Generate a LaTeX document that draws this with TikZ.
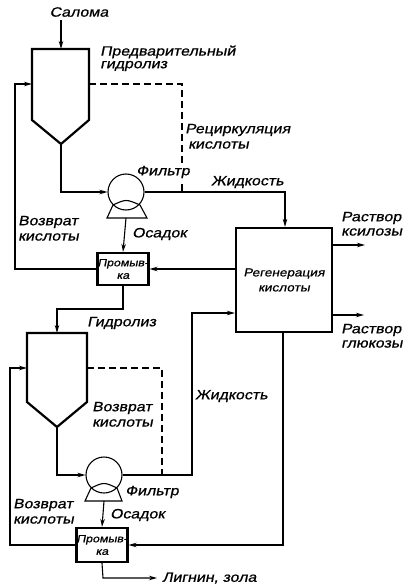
\documentclass[tikz,border=0pt]{standalone}
\usepackage{fontspec}
\newfontfamily\df{Liberation Sans}[FakeSlant=0.2,FakeStretch=1.18,FakeBold=0.8]
\usetikzlibrary{arrows.meta}
\begin{document}
\begin{tikzpicture}[x=1pt,y=-1pt,
  thin line/.style={line width=1.1pt},
  thick line/.style={line width=2.2pt},
  flow/.style={thin line,-{Stealth[length=8pt,width=4.5pt,inset=2.5pt]}},
  dline/.style={line width=1.2pt,dash pattern=on 7pt off 4pt},
  lbl/.style={font=\df\fontsize{13.5}{13.5}\selectfont,inner sep=0pt,anchor=west},
  washbox/.style={draw,thick line,minimum width=49pt,minimum height=32pt,inner sep=0pt,align=center,font=\df\fontsize{10.5}{12.5}\selectfont},
  filt/.style={draw,thin line,circle,minimum size=36pt,inner sep=0pt}]
\useasboundingbox (0,0) rectangle (405,586);

% ---------- top stage ----------
\node[lbl,anchor=center] (salo) at (79,12) {Салома};
\coordinate (inA) at (61,20);
\coordinate (h1tl) at (32,49);
\coordinate (h1tr) at (89,49);
\coordinate (h1r) at (89,120);
\coordinate (h1a) at (61,144);
\coordinate (h1l) at (32,120);
\draw[thick line,line join=miter] (h1tl) -- (h1tr) -- (h1r) -- (h1a) -- (h1l) -- cycle;
\draw[flow] (inA) -- (h1tl -| h1a);
\node[lbl] (t1) at (100,52) {Предварительный};
\node[lbl] (t2) at (100,66) {гидролиз};

\node[filt] (f1) at (126,192) {};
\draw[thin line] (113,205) .. controls (126,199) .. (140,205) -- (147,218) -- (107,218) -- cycle;
\coordinate (f1b) at (126,218);
\node[lbl] (tf1) at (136,172) {Фильтр};

\coordinate (d1a) at (182,84);
\coordinate (d1c) at (182,163);
\coordinate (d1d) at (182,184);
\coordinate (d1b) at (182,192);
\draw[dline] (89,84) -- (d1a) -- (d1c);
\draw[thin line] (d1d) -- (d1b);
\node[lbl] (tr1) at (185,130) {Рециркуляция};
\node[lbl] (tr2) at (188,145) {кислоты};

\coordinate (a1) at (61,192);
\draw[flow] (h1a) -- (a1) -- (f1.west);

\node[draw,thick line,minimum width=96pt,minimum height=104pt,inner sep=0pt,
      align=center,font=\df\fontsize{11.5}{15}\selectfont] (reg) at (284,280)
      {Регенерация\\кислоты};

\coordinate (l1) at (285,192);
\draw[flow] (f1.east) -- (l1) -- (l1 |- reg.north);
\node[lbl] (tl1) at (211,182) {Жидкость};

\coordinate (o1) at (365,245);
\draw[flow] (reg.east |- o1) -- (o1);
\node[lbl] (tx1) at (341,218) {Раствор};
\node[lbl] (tx2) at (341,232) {ксилозы};

\node[washbox] (w1) at (123,269) {Промыв-\\ка};
\draw[flow] (f1b) -- (w1.north);
\node[lbl] (to1) at (132,234) {Осадок};
\draw[flow] (reg.west |- w1) -- (w1.east);

\coordinate (r1a) at (15,269);
\coordinate (r1b) at (15,84);
\draw[flow] (w1.west) -- (r1a) -- (r1b) -- (h1tl |- r1b);
\node[lbl] (tv1) at (18,222) {Возврат};
\node[lbl] (tv2) at (18,237) {кислоты};

% ---------- bottom stage ----------
\coordinate (h2tl) at (27,333);
\coordinate (h2tr) at (87,333);
\coordinate (h2r) at (87,402);
\coordinate (h2a) at (57,427);
\coordinate (h2l) at (27,402);
\draw[thick line,line join=miter] (h2tl) -- (h2tr) -- (h2r) -- (h2a) -- (h2l) -- cycle;
\coordinate (b1) at (123,309);
\coordinate (b2) at (57,309);
\draw[flow] (w1.south) -- (b1) -- (b2) -- (h2tl -| h2a);
\node[lbl] (tg) at (87,323) {Гидролиз};

\node[filt] (f2) at (104,475) {};
\draw[thin line] (91,488) .. controls (104,482) .. (117,488) -- (122,501) -- (85,501) -- cycle;
\coordinate (f2b) at (104,501);
\node[lbl] (tf2) at (125,492) {Фильтр};

\coordinate (d2a) at (162,368);
\coordinate (d2b) at (162,475);
\draw[dline] (h2r |- d2a) -- (d2a) -- (d2b);
\node[lbl] (tm1) at (92,408) {Возврат};
\node[lbl] (tm2) at (92,423) {кислоты};

\coordinate (a2) at (57,475);
\draw[flow] (h2a) -- (a2) -- (f2.west);

\coordinate (l2a) at (192,475);
\coordinate (l2b) at (192,313);
\draw[flow] (f2.east) -- (l2a) -- (l2b) -- (reg.west |- l2b);
\node[lbl] (tl2) at (195,396) {Жидкость};

\coordinate (o2) at (364,315);
\draw[flow] (reg.east |- o2) -- (o2);
\node[lbl] (tx3) at (341,330) {Раствор};
\node[lbl] (tx4) at (341,344) {глюкозы};

\node[washbox,minimum width=50pt,minimum height=34pt] (w2) at (102,545) {Промыв-\\ка};
\draw[flow] (f2b) -- (w2.north);
\node[lbl] (to2) at (110,515) {Осадок};

\coordinate (g1) at (283,332);
\coordinate (g2) at (283,545);
\draw[flow] (g1) -- (g2) -- (w2.east);

\coordinate (r2a) at (10,545);
\coordinate (r2b) at (10,368);
\draw[flow] (w2.west) -- (r2a) -- (r2b) -- (h2tl |- r2b);
\node[lbl] (tv3) at (13,505) {Возврат};
\node[lbl] (tv4) at (13,520) {кислоты};

\coordinate (e1) at (103,578);
\coordinate (e2) at (157,578);
\draw[flow] (w2.south) -- (e1) -- (e2);
\node[lbl] (tlg) at (162,578) {Лигнин, зола};
\end{tikzpicture}
\end{document}
